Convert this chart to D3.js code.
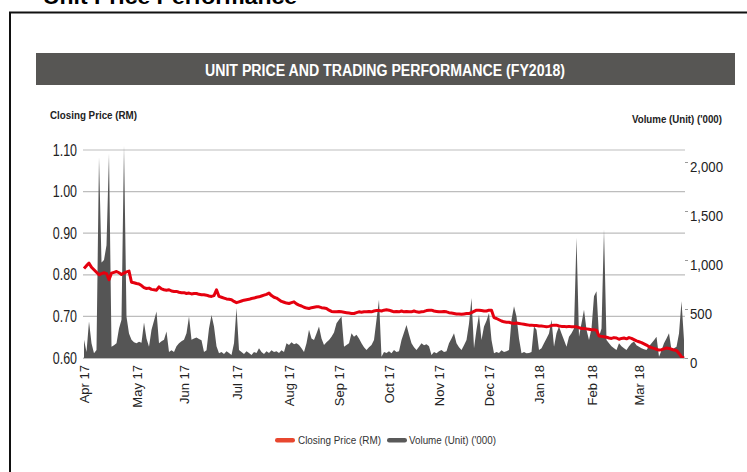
<!DOCTYPE html>
<html><head><meta charset="utf-8">
<script src="https://cdn.jsdelivr.net/npm/d3@7"></script>
<style>
body{margin:0;background:#fff}
svg{display:block}
text{font-family:"Liberation Sans Narrow","Arial Narrow","Liberation Sans",Arial,sans-serif}
</style>
</head><body>
<svg id="c" width="747" height="472"></svg>
<script>
// ---------------- DATA ----------------
const monthLabels = ["Apr 17","May 17","Jun 17","Jul 17","Aug 17","Sep 17","Oct 17","Nov 17","Dec 17","Jan 18","Feb 18","Mar 18"];
const monthStartDay = [0,21,40,61,82,102,122,142,162,182,203,222]; // trading-day index of each month start
const priceTicks = [0.60,0.70,0.80,0.90,1.00,1.10];
const volumeTicks = [0,500,1000,1500,2000];
const seriesNames = ["Closing Price (RM)","Volume (Unit) ('000)"];

// closing price (RM), one value per trading day
const closingPrice = [
0.815,0.822,0.828,0.818,0.812,0.806,0.800,0.803,0.805,0.803,
0.788,0.804,0.806,0.808,0.805,0.801,0.804,0.807,0.809,0.782,
0.781,0.779,0.778,0.774,0.769,0.767,0.768,0.765,0.764,0.763,
0.771,0.766,0.764,0.763,0.764,0.761,0.760,0.760,0.758,0.757,
0.757,0.755,0.756,0.754,0.755,0.755,0.753,0.752,0.752,0.751,
0.749,0.748,0.750,0.764,0.748,0.746,0.744,0.742,0.741,0.740,
0.736,0.733,0.735,0.737,0.739,0.740,0.741,0.743,0.744,0.746,
0.747,0.749,0.751,0.753,0.756,0.750,0.746,0.744,0.740,0.736,
0.734,0.732,0.731,0.733,0.735,0.730,0.727,0.725,0.722,0.720,
0.719,0.721,0.722,0.723,0.723,0.721,0.720,0.719,0.715,0.712,
0.711,0.711,0.712,0.711,0.710,0.709,0.708,0.707,0.707,0.709,
0.711,0.710,0.711,0.711,0.712,0.711,0.713,0.714,0.714,0.713,
0.715,0.716,0.715,0.713,0.711,0.712,0.711,0.713,0.711,0.712,
0.711,0.711,0.713,0.711,0.710,0.711,0.712,0.714,0.715,0.715,
0.713,0.712,0.711,0.711,0.712,0.711,0.709,0.708,0.707,0.706,
0.706,0.705,0.706,0.707,0.707,0.709,0.712,0.715,0.715,0.714,
0.713,0.713,0.715,0.715,0.697,0.695,0.692,0.689,0.687,0.686,
0.686,0.684,0.683,0.684,0.683,0.682,0.681,0.680,0.679,0.679,
0.678,0.678,0.677,0.677,0.676,0.675,0.676,0.678,0.679,0.679,
0.677,0.676,0.676,0.675,0.676,0.675,0.675,0.675,0.673,0.671,
0.671,0.670,0.669,0.668,0.668,0.667,0.653,0.652,0.651,0.650,
0.648,0.647,0.649,0.648,0.645,0.647,0.648,0.646,0.649,0.647,
0.644,0.641,0.639,0.637,0.634,0.631,0.627,0.625,0.623,0.621,
0.619,0.620,0.622,0.624,0.623,0.621,0.619,0.618,0.611,0.603,
0.600];

// traded volume ('000 units), one value per trading day
const volume = [
185,60,372,150,48,82,2049,975,1000,1150,
2083,116,130,150,300,390,2168,420,250,185,
160,150,165,155,362,200,116,287,380,475,
150,170,185,270,60,80,60,120,150,170,
185,253,424,185,200,210,195,180,60,80,
300,440,322,120,48,60,40,70,50,30,
150,510,82,60,40,70,50,30,60,50,
100,60,40,70,50,80,60,70,50,80,
60,150,133,160,140,150,133,100,62,150,
287,200,184,250,322,200,133,160,184,218,
260,355,390,424,116,133,150,253,218,236,
200,150,110,82,110,133,184,390,595,13,
60,50,70,48,82,60,70,184,260,338,
240,150,110,82,116,150,130,140,120,30,
60,48,70,82,60,70,150,200,253,150,
110,82,130,184,350,612,100,287,441,184,
322,380,458,184,48,60,50,80,60,70,
82,390,527,424,200,48,60,48,50,60,
322,287,82,100,150,200,250,390,116,253,
322,250,184,116,218,253,300,1228,218,355,
492,287,184,300,629,680,218,300,1313,184,
150,120,100,82,150,120,100,82,120,150,
168,130,116,100,90,82,120,150,180,218,
13,80,150,200,253,82,100,116,250,578,
184];

// ---------------- CHART ----------------
const svg = d3.select("#c");
const days = d3.range(closingPrice.length);

const x = d3.scaleLinear().domain([0, closingPrice.length - 1]).range([84, 684]);
const yP = d3.scaleLinear().domain([0.60, 1.10]).range([358, 150]);
const yV = d3.scaleLinear().domain([0, 2000]).range([358, 162]);

// outer frame (top + left edges visible)
svg.append("path").attr("d", "M10,472 V12.5 H747")
  .attr("fill", "none").attr("stroke", "#111").attr("stroke-width", 2);

// heading (cut at the top edge, as in the source page)
svg.append("text").attr("x", 43).attr("y", 4)
  .attr("font-size", 21).attr("font-weight", "bold").attr("fill", "#000")
  .attr("textLength", 254).attr("lengthAdjust", "spacingAndGlyphs")
  .text("Unit Price Performance");

// title bar
svg.append("rect").attr("x", 36).attr("y", 53).attr("width", 699).attr("height", 32).attr("fill", "#575654");
svg.append("text").attr("x", 385).attr("y", 75.5).attr("text-anchor", "middle")
  .attr("font-size", 16).attr("font-weight", "bold").attr("fill", "#fff")
  .attr("textLength", 360).attr("lengthAdjust", "spacingAndGlyphs")
  .text("UNIT PRICE AND TRADING PERFORMANCE (FY2018)");

// axis titles
svg.append("text").attr("x", 50).attr("y", 119).attr("font-size", 10.5).attr("font-weight", "bold").attr("fill", "#222")
  .attr("textLength", 87).attr("lengthAdjust", "spacingAndGlyphs").text("Closing Price (RM)");
svg.append("text").attr("x", 722).attr("y", 123).attr("font-size", 10.5).attr("font-weight", "bold").attr("fill", "#222")
  .attr("text-anchor", "end").attr("textLength", 90).attr("lengthAdjust", "spacingAndGlyphs").text("Volume (Unit) ('000)");

// gridlines
svg.append("g").selectAll("line").data(priceTicks).join("line")
  .attr("x1", 83).attr("x2", 685)
  .attr("y1", d => yP(d)).attr("y2", d => yP(d))
  .attr("stroke", "#bdbdbd").attr("stroke-width", 1.2);

// volume area
svg.append("path").datum(days)
  .attr("fill", "#555555")
  .attr("d", d3.area().x(i => x(i)).y0(yV(0)).y1(i => yV(volume[i])));

// price line
svg.append("path").datum(days)
  .attr("fill", "none").attr("stroke", "#e5000f").attr("stroke-width", 3)
  .attr("stroke-linejoin", "round")
  .attr("d", d3.line().x(i => x(i)).y(i => yP(closingPrice[i])));

// left axis
const gL = svg.append("g").attr("transform", "translate(83,0)")
  .call(d3.axisLeft(yP).tickValues(priceTicks).tickFormat(d3.format(".2f")).tickSize(0));
gL.select(".domain").remove();
gL.selectAll("text").attr("font-size", 16).attr("fill", "#222").attr("font-family", null)
  .attr("x", -7.7).attr("transform", "scale(0.78,1)");

// right axis
const gR = svg.append("g").attr("transform", "translate(685,0)")
  .call(d3.axisRight(yV).tickValues(volumeTicks).tickFormat(d3.format(",")).tickSize(3));
gR.select(".domain").remove();
gR.selectAll("line").attr("stroke", "#999");
gR.selectAll("text").attr("font-size", 15).attr("fill", "#222").attr("font-family", null)
  .attr("x", 5.7).attr("dy", "0.6em").attr("transform", "scale(0.88,1)");

// bottom axis
const gB = svg.append("g").attr("transform", "translate(0,358)")
  .call(d3.axisBottom(x).tickValues(monthStartDay).tickFormat((d, i) => monthLabels[i]).tickSize(0));
gB.select(".domain").attr("stroke", "#bdbdbd").attr("stroke-width", 1.2).attr("d", "M83,0.5H685");
gB.selectAll("text").attr("font-size", 13).attr("fill", "#222").attr("font-family", null)
  .attr("transform", "rotate(-90)").attr("text-anchor", "end")
  .attr("x", -7).attr("y", 0).attr("dy", "0.35em");

// legend
const lg = svg.append("g");
lg.append("rect").attr("x", 275).attr("y", 438).attr("width", 20).attr("height", 4.5).attr("rx", 2.2).attr("fill", "#e8472f");
lg.append("text").attr("x", 298).attr("y", 444).attr("font-size", 11).attr("fill", "#333")
  .attr("textLength", 83).attr("lengthAdjust", "spacingAndGlyphs").text(seriesNames[0]);
lg.append("rect").attr("x", 387).attr("y", 438).attr("width", 20).attr("height", 4.5).attr("rx", 2.2).attr("fill", "#595959");
lg.append("text").attr("x", 409).attr("y", 444).attr("font-size", 11).attr("fill", "#333")
  .attr("textLength", 87).attr("lengthAdjust", "spacingAndGlyphs").text(seriesNames[1]);
</script>
</body></html>
